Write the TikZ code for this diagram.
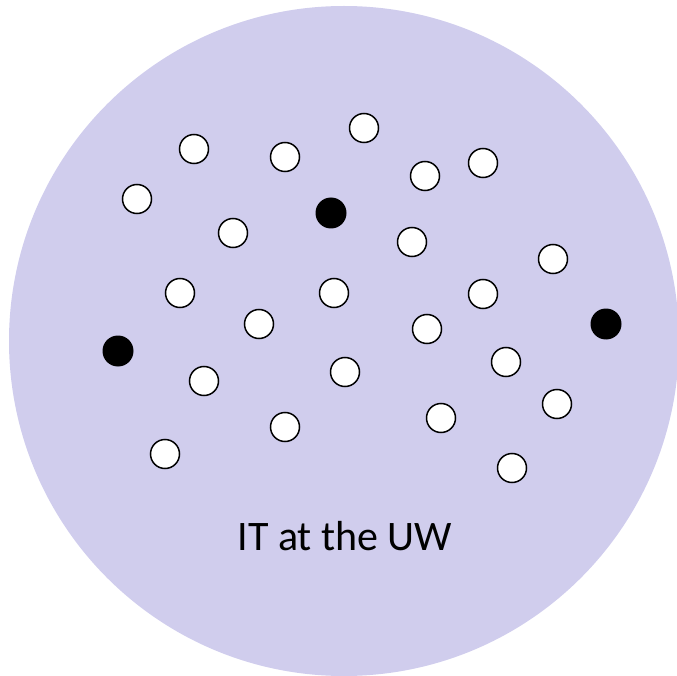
\documentclass[tikz,border=0pt]{standalone}
\usepackage{fontspec}
\setmainfont{Carlito}
\begin{document}
\begin{tikzpicture}[x=1pt,y=-1pt,
  member/.style={circle,draw=black,line width=1.5pt,fill=white,minimum size=29pt,inner sep=0pt},
  chosen/.style={circle,fill=black,minimum size=31pt,inner sep=0pt},
  label/.style={font=\fontsize{42}{50}\selectfont,text=black}]
\definecolor{campus}{RGB}{208,205,237}
\useasboundingbox (0,0) rectangle (677,676);
% the campus
\fill[campus] (344,341) circle (335);
% people in IT
\node[member] (p1) at (194,149) {};
\node[member] (p2) at (285,157) {};
\node[member] (p3) at (364,128) {};
\node[member] (p4) at (425,176) {};
\node[member] (p5) at (483,163) {};
\node[member] (p6) at (137,199) {};
\node[member] (p7) at (233,233) {};
\node[member] (p8) at (412,242) {};
\node[member] (p9) at (553,259) {};
\node[member] (p10) at (180,293) {};
\node[member] (p11) at (334,293) {};
\node[member] (p12) at (483,294) {};
\node[member] (p13) at (259,324) {};
\node[member] (p14) at (427,329) {};
\node[member] (p15) at (204,381) {};
\node[member] (p16) at (345,372) {};
\node[member] (p17) at (506,362) {};
\node[member] (p18) at (557,404) {};
\node[member] (p19) at (285,427) {};
\node[member] (p20) at (441,418) {};
\node[member] (p21) at (165,454) {};
\node[member] (p22) at (512,468) {};
% highlighted people
\node[chosen] (c1) at (331,213) {};
\node[chosen] (c2) at (606,324) {};
\node[chosen] (c3) at (118,351) {};
% caption
\node[label] (title) at (345,536) {IT at the UW};
\end{tikzpicture}
\end{document}
